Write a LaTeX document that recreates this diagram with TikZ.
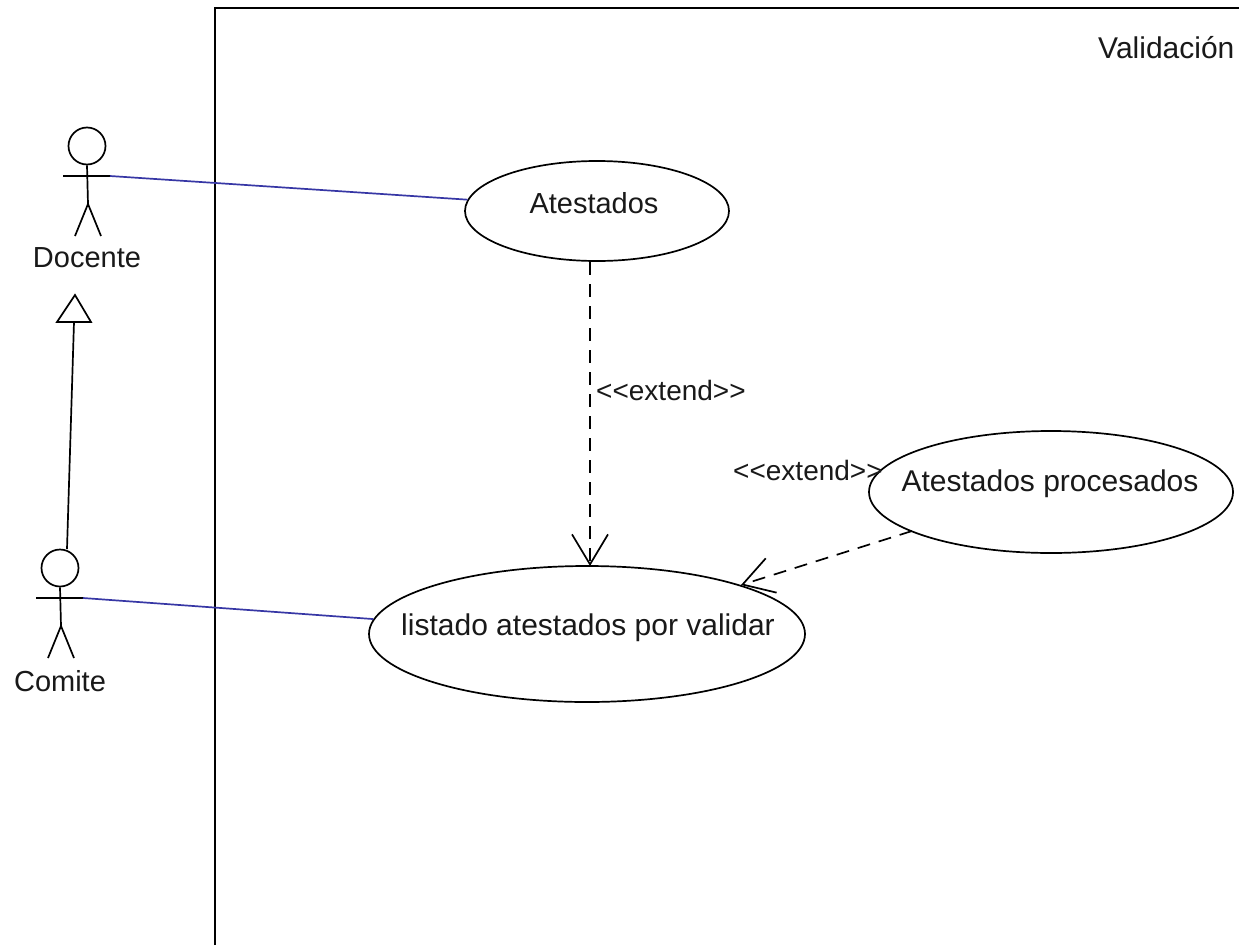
\documentclass[tikz,border=0pt]{standalone}
\usepackage{fontspec}
\setmainfont{Liberation Sans}
\usetikzlibrary{shapes.geometric,arrows.meta,calc}
\definecolor{assocblue}{RGB}{55,55,165}
\tikzset{
 usecase/.style={draw,ellipse,line width=1.7pt,inner sep=0pt,minimum width=#1},
 lbl/.style={font=\fontsize{29}{32}\selectfont,inner sep=0pt,text=black!90},
 biglbl/.style={font=\fontsize{30}{32}\selectfont,inner sep=0pt,text=black!90},
 extlbl/.style={font=\fontsize{28}{32}\selectfont,inner sep=0pt,text=black!90},
 assoc/.style={draw=assocblue,line width=1.7pt},
 ext/.style={line width=1.7pt,dash pattern=on 13pt off 9pt,-{Straight Barb[length=30pt,width=36pt,line width=1.7pt]}},
 limb/.style={line width=1.7pt},
}
\begin{document}
\begin{tikzpicture}[x=1pt,y=-1pt]
\useasboundingbox (0,0) rectangle (1239,945);
\fill[white] (0,0) rectangle (1239,945);
\draw[line width=2pt] (215,945) -- (215,8) -- (1239,8);
\node[biglbl,anchor=west] (title) at (1098,48) {Validación};
% use cases
\node[usecase=264,minimum height=100] (at) at (597,211) {};
\node[lbl] (atl) at (594,203) {Atestados};
\node[usecase=436,minimum height=136] (li) at (587,634) {};
\node[biglbl] (lil) at (588,628) {listado atestados por validar};
\node[usecase=364,minimum height=122] (pr) at (1051,492) {};
\node[biglbl] (prl) at (1050,484) {Atestados procesados};
% Docente actor
\node[draw,circle,line width=1.7pt,minimum size=37,inner sep=0pt] (dh) at (87,146) {};
\coordinate (dhip) at (88,204);
\coordinate (dl) at (75,236);
\coordinate (dr) at (101,236);
\coordinate (da) at (63,176);
\coordinate (db) at (110,176);
\draw[limb] (dh.south) -- (dhip) (dl) -- (dhip) -- (dr) (da) -- (db);
\node[lbl] (dn) at (87,258) {Docente};
% Comite actor
\node[draw,circle,line width=1.7pt,minimum size=37,inner sep=0pt] (ch) at (60,568) {};
\coordinate (chip) at (61,626);
\coordinate (cl) at (48,658);
\coordinate (cr) at (74,658);
\coordinate (ca) at (36,598);
\coordinate (cb) at (83,598);
\draw[limb] (ch.south) -- (chip) (cl) -- (chip) -- (cr) (ca) -- (cb);
\node[lbl] (cn) at (60,681) {Comite};
% associations
\draw[assoc] (db) -- (at.175);
\draw[assoc] (cb) -- (li.176);
% generalization
\coordinate (gt) at (75,295);
\coordinate (gl) at (91,322);
\coordinate (gr) at (57,322);
\coordinate (gb) at (74,322);
\coordinate (gs) at (67,549);
\draw[line width=1.7pt] (gs) -- (gb);
\draw[line width=1.7pt,fill=white] (gt) -- (gl) -- (gr) -- cycle;
% extends
\coordinate (a1) at (590,262);
\coordinate (a2) at (590,566);
\draw[ext] (a1) -- (a2);
\node[extlbl,anchor=west] (e1) at (596,390) {<{}<extend>{}>};
\coordinate (b1) at (912,531);
\coordinate (b2) at (741,585);
\draw[ext] (b1) -- (b2);
\node[extlbl,anchor=west] (e2) at (733,470) {<{}<extend>{}>};
\end{tikzpicture}
\end{document}
